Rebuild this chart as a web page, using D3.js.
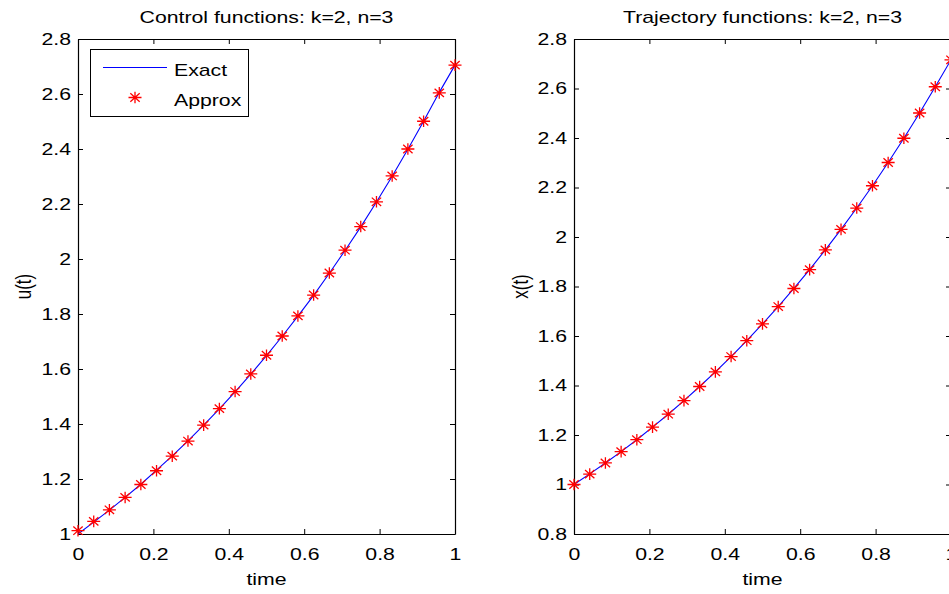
<!DOCTYPE html>
<html>
<head>
<meta charset="utf-8">
<script src="https://cdn.jsdelivr.net/npm/d3@7"></script>
<style>
  body { margin: 0; background: #fff; }
  svg { display: block; font-family: "Liberation Sans", Arial, sans-serif; }
  .domain { stroke: #000; }
  .tick line { stroke: #000; }
</style>
</head>
<body>
<svg id="chart" width="949" height="594"></svg>
<script>
// time grid (25 nodes)
const time = [0, 0.0417, 0.0833, 0.125, 0.1667, 0.2083, 0.25, 0.2917, 0.3333, 0.375, 0.4167, 0.4583,
  0.5, 0.5417, 0.5833, 0.625, 0.6667, 0.7083, 0.75, 0.7917, 0.8333, 0.875, 0.9167, 0.9583, 1];

const uExact = [1.000, 1.043, 1.087, 1.133, 1.181, 1.232, 1.284, 1.339, 1.396, 1.455, 1.517, 1.581,
  1.649, 1.719, 1.792, 1.868, 1.948, 2.031, 2.117, 2.207, 2.301, 2.399, 2.501, 2.606, 2.705];
const uApprox = [1.012, 1.046, 1.088, 1.133, 1.180, 1.230, 1.283, 1.338, 1.396, 1.456, 1.518, 1.582,
  1.650, 1.720, 1.793, 1.869, 1.949, 2.032, 2.118, 2.208, 2.302, 2.400, 2.501, 2.604, 2.705];

const xExact = [1.000, 1.043, 1.087, 1.133, 1.181, 1.232, 1.284, 1.339, 1.396, 1.455, 1.517, 1.581,
  1.649, 1.719, 1.792, 1.868, 1.948, 2.031, 2.117, 2.207, 2.301, 2.399, 2.501, 2.607, 2.716];
const xApprox = [1.000, 1.042, 1.087, 1.133, 1.181, 1.232, 1.284, 1.339, 1.396, 1.455, 1.517, 1.581,
  1.649, 1.719, 1.792, 1.868, 1.948, 2.031, 2.117, 2.207, 2.301, 2.399, 2.501, 2.607, 2.716];

const timeTicks = [0, 0.2, 0.4, 0.6, 0.8, 1];
const uTicks = [1, 1.2, 1.4, 1.6, 1.8, 2, 2.2, 2.4, 2.6, 2.8];
const xTicks = [0.8, 1, 1.2, 1.4, 1.6, 1.8, 2, 2.2, 2.4, 2.6, 2.8];

const legendLabels = ['Exact', 'Approx'];

const SX = 1.25;       // horizontal stretch of the original raster
const FS = 17;
const svg = d3.select('#chart');
const fmt = d => String(+d.toFixed(1));

function starPath(cx, cy) {
  const rx = 6.5, ry = 5.8, dx = rx * 0.72, dy = ry * 0.72;
  return `M${cx - rx},${cy}L${cx + rx},${cy}M${cx},${cy - ry}L${cx},${cy + ry}` +
    `M${cx - dx},${cy - dy}L${cx + dx},${cy + dy}M${cx - dx},${cy + dy}L${cx + dx},${cy - dy}`;
}

function stretchText(sel, x, y, anchor, rotate) {
  return sel.attr('transform', `translate(${x},${y}) scale(${SX},1)` + (rotate ? ` rotate(${rotate})` : ''))
    .attr('text-anchor', anchor)
    .style('font-size', FS + 'px')
    .attr('fill', '#000');
}

function drawPanel(opts) {
  const { left, right, top, bottom, yDomain, yTickVals, exact, approx, title, ylabel, ylabelX } = opts;
  const x = d3.scaleLinear().domain([0, 1]).range([left, right]);
  const y = d3.scaleLinear().domain(yDomain).range([bottom, top]);
  const g = svg.append('g');

  g.append('rect')
    .attr('x', left).attr('y', top)
    .attr('width', right - left).attr('height', bottom - top)
    .attr('fill', '#fff');

  // bottom axis with labels
  const gx = g.append('g')
    .attr('transform', `translate(0,${bottom})`)
    .call(d3.axisBottom(x).tickValues(timeTicks).tickFormat(fmt).tickSizeInner(-5).tickSizeOuter(0).tickPadding(14));
  gx.selectAll('text').attr('transform', `scale(${SX},1)`).style('font-size', FS + 'px').attr('fill', '#000');

  // top axis, ticks only
  g.append('g')
    .attr('transform', `translate(0,${top})`)
    .call(d3.axisTop(x).tickValues(timeTicks).tickFormat('').tickSizeInner(-5).tickSizeOuter(0));

  // left axis with labels
  const gy = g.append('g')
    .attr('transform', `translate(${left},0)`)
    .call(d3.axisLeft(y).tickValues(yTickVals).tickFormat(fmt).tickSizeInner(-5).tickSizeOuter(0));
  gy.selectAll('text').attr('x', -7 / SX).attr('transform', `scale(${SX},1)`)
    .style('font-size', FS + 'px').attr('fill', '#000');

  // right axis, ticks only
  g.append('g')
    .attr('transform', `translate(${right},0)`)
    .call(d3.axisRight(y).tickValues(yTickVals).tickFormat('').tickSizeInner(-5).tickSizeOuter(0));

  g.selectAll('.domain').attr('stroke', '#000').attr('stroke-width', 1.2);
  g.selectAll('.tick line').attr('stroke', '#000');
  g.selectAll('g').attr('font-family', null).attr('font-size', null);

  const line = d3.line().x((d, i) => x(time[i])).y(d => y(d));
  g.append('path')
    .datum(exact)
    .attr('d', line)
    .attr('fill', 'none')
    .attr('stroke', '#0000ff')
    .attr('stroke-width', 1.1);

  g.append('g')
    .selectAll('path')
    .data(approx)
    .join('path')
    .attr('d', (d, i) => starPath(x(time[i]), y(d)))
    .attr('stroke', '#ff0000')
    .attr('stroke-width', 1.3)
    .attr('fill', 'none');

  // title and labels
  stretchText(g.append('text').text(title), (left + right) / 2, 23, 'middle');
  stretchText(g.append('text').text('time'), (left + right) / 2, 585, 'middle');
  stretchText(g.append('text').text(ylabel).attr('dy', '0.35em'), ylabelX, (top + bottom) / 2, 'middle', -90);

  return { x, y, g };
}

drawPanel({
  left: 78, right: 455, top: 39, bottom: 534,
  yDomain: [1, 2.8], yTickVals: uTicks,
  exact: uExact, approx: uApprox,
  title: 'Control functions: k=2, n=3', ylabel: 'u(t)', ylabelX: 24
});

drawPanel({
  left: 574, right: 951, top: 39, bottom: 534,
  yDomain: [0.8, 2.8], yTickVals: xTicks,
  exact: xExact, approx: xApprox,
  title: 'Trajectory functions: k=2, n=3', ylabel: 'x(t)', ylabelX: 521
});

// legend (left panel)
const legend = svg.append('g');
legend.append('rect')
  .attr('x', 90.5).attr('y', 49.5).attr('width', 158).attr('height', 67)
  .attr('fill', '#fff').attr('stroke', '#000').attr('stroke-width', 1);
legend.append('line')
  .attr('x1', 103).attr('x2', 167).attr('y1', 67.5).attr('y2', 67.5)
  .attr('stroke', '#0000ff').attr('stroke-width', 1.1);
legend.append('path')
  .attr('d', starPath(135, 97.5))
  .attr('stroke', '#ff0000').attr('stroke-width', 1.3).attr('fill', 'none');
legendLabels.forEach((lab, i) => {
  stretchText(legend.append('text').text(lab), 174, 76 + i * 30, 'start');
});
</script>
</body>
</html>
